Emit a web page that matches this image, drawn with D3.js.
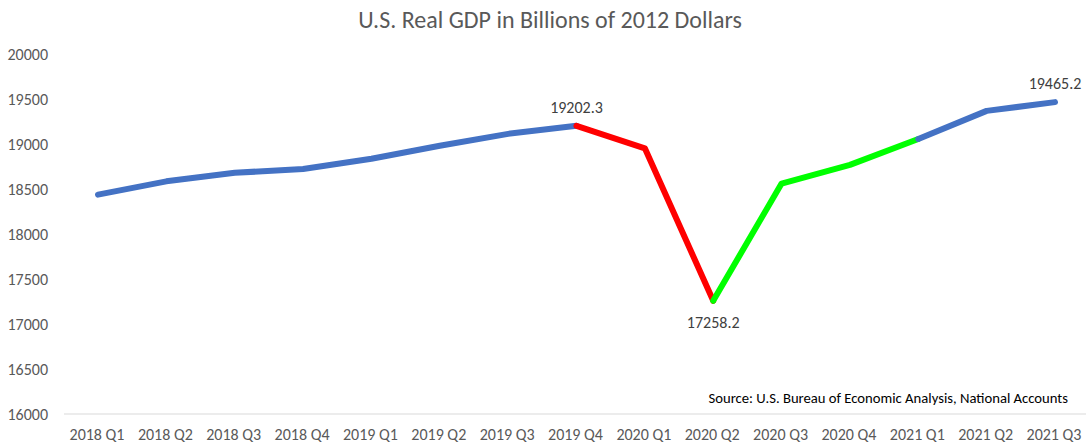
<!DOCTYPE html>
<html>
<head>
<meta charset="utf-8">
<script src="https://cdn.jsdelivr.net/npm/d3@7"></script>
<style>
  html, body { margin: 0; padding: 0; background: #fff; }
  svg { display: block; }
</style>
</head>
<body>
<svg id="chart" width="1086" height="445"></svg>
<script>
const categories = ["2018 Q1","2018 Q2","2018 Q3","2018 Q4","2019 Q1","2019 Q2","2019 Q3","2019 Q4",
                    "2020 Q1","2020 Q2","2020 Q3","2020 Q4","2021 Q1","2021 Q2","2021 Q3"];
const gdpValues = [18437.1, 18585.0, 18680.0, 18722.0, 18835.4, 18980.0, 19112.7, 19202.3,
                   18952.0, 17258.2, 18560.8, 18767.8, 19055.7, 19368.3, 19465.2];
const yTicks = [16000, 16500, 17000, 17500, 18000, 18500, 19000, 19500, 20000];
// segments: [start index, end index, colour]
const segStart = [0, 7, 9, 12];
const segEnd   = [7, 9, 12, 14];
const segColor = ["#4472C4", "#FF0000", "#00FF00", "#4472C4"];
const labelledIdx = [7, 9, 14];
const labelPos = ["above", "below", "above"];
const title = "U.S. Real GDP in Billions of 2012 Dollars";
const source = "Source:  U.S. Bureau of Economic Analysis, National Accounts";

const FONT = "Carlito, Calibri, 'Liberation Sans Narrow', 'Liberation Sans', sans-serif";
const svg = d3.select("#chart");

const x = d3.scalePoint().domain(categories).range([98, 1055]);
const y = d3.scaleLinear().domain([16000, 20000]).range([414, 54]);

// title
svg.append("text").attr("x", 550).attr("y", 28).attr("text-anchor", "middle")
  .attr("font-family", FONT).attr("font-size", 24).attr("fill", "#595959").text(title);

// baseline axis
svg.append("line").attr("x1", 64).attr("x2", 1086).attr("y1", y(16000)).attr("y2", y(16000))
  .attr("stroke", "#d9d9d9").attr("stroke-width", 1);

// y labels
svg.append("g").selectAll("text").data(yTicks).join("text")
  .attr("x", 48).attr("y", d => y(d)).attr("dy", "0.35em").attr("text-anchor", "end")
  .attr("font-family", FONT).attr("font-size", 16).attr("fill", "#595959").text(d => d);

// x labels
svg.append("g").selectAll("text").data(categories).join("text")
  .attr("x", d => x(d) - 1).attr("y", 440).attr("text-anchor", "middle")
  .attr("font-family", FONT).attr("font-size", 16).attr("fill", "#595959").text(d => d);

// line segments
const line = d3.line().x(i => x(categories[i])).y(i => y(gdpValues[i]));
svg.append("g").selectAll("path").data(segStart).join("path")
  .attr("d", (s, k) => line(d3.range(s, segEnd[k] + 1)))
  .attr("fill", "none").attr("stroke", (s, k) => segColor[k])
  .attr("stroke-width", 6).attr("stroke-linecap", "round").attr("stroke-linejoin", "round");

// data labels
svg.append("g").selectAll("text").data(labelledIdx).join("text")
  .attr("x", i => x(categories[i]))
  .attr("y", (i, k) => labelPos[k] === "above" ? y(gdpValues[i]) - 13 : y(gdpValues[i]) + 27)
  .attr("text-anchor", "middle")
  .attr("font-family", FONT).attr("font-size", 16).attr("fill", "#404040")
  .text(i => gdpValues[i].toFixed(1));

// source
svg.append("text").attr("x", 1068).attr("y", 403).attr("text-anchor", "end")
  .attr("font-family", FONT).attr("font-size", 14.67).attr("fill", "#000").text(source);
</script>
</body>
</html>
